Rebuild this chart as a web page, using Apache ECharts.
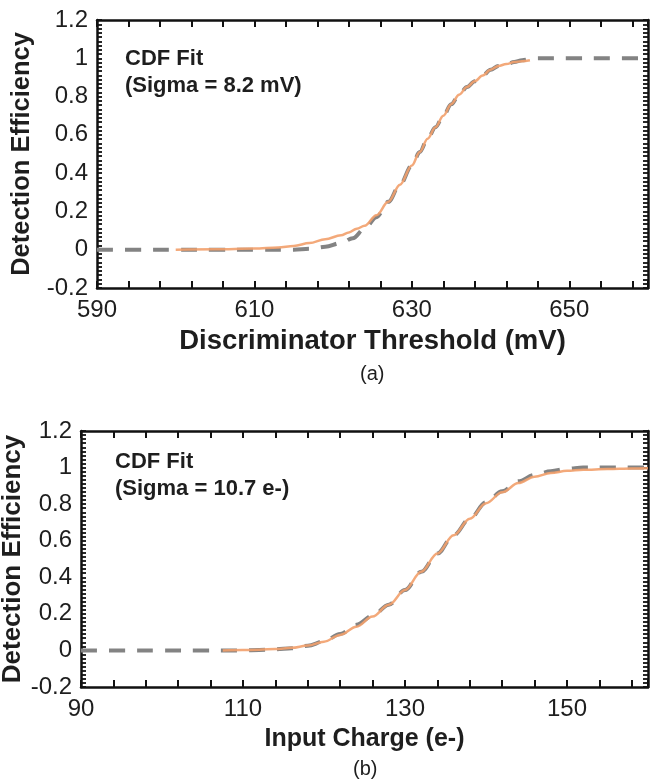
<!DOCTYPE html>
<html>
<head>
<meta charset="utf-8">
<script src="https://cdn.jsdelivr.net/npm/echarts@6/dist/echarts.min.js"></script>
<style>
html,body{margin:0;padding:0;background:#fff;}
#c{width:652px;height:781px;}
</style>
</head>
<body>
<div id="c"></div>
<script>
// Panel (a): Discriminator Threshold (mV) vs Detection Efficiency
var aDataX = [590, 595, 600, 605, 610, 615, 617, 619, 621, 622.5, 624, 625.5, 627, 628.5, 630, 631, 632, 633, 634, 635, 636, 637, 638, 639, 640, 641, 642, 643, 644, 645, 646, 650, 655, 660];
var aDataY = [0, 0, 0, 0, 0, 0, 0.005, 0.015, 0.035, 0.06, 0.11, 0.17, 0.25, 0.34, 0.44, 0.51, 0.58, 0.64, 0.70, 0.76, 0.81, 0.85, 0.88, 0.91, 0.94, 0.96, 0.97, 0.98, 0.99, 0.995, 1, 1, 1, 1];
var aFitX = [600, 605, 610, 613, 615, 617, 619, 621, 622, 623, 624, 625.5, 627, 628.5, 630, 631, 632, 633, 634, 635, 636, 637, 638, 639, 640, 641, 642, 643, 644, 645];
var aFitY = [0, 0.002, 0.006, 0.012, 0.02, 0.035, 0.055, 0.075, 0.09, 0.11, 0.125, 0.18, 0.25, 0.34, 0.44, 0.51, 0.58, 0.64, 0.70, 0.76, 0.81, 0.85, 0.88, 0.91, 0.94, 0.96, 0.97, 0.98, 0.985, 0.99];

// Panel (b): Input Charge (e-) vs Detection Efficiency
var bDataX = [90, 95, 100, 105, 108, 110, 112, 114, 116, 118, 120, 122, 124, 126, 128, 130, 132, 134, 136, 138, 140, 142, 144, 146, 148, 150, 152, 155, 158, 160];
var bDataY = [0, 0, 0, 0, 0, 0, 0.003, 0.006, 0.012, 0.025, 0.05, 0.09, 0.14, 0.19, 0.25, 0.33, 0.43, 0.53, 0.63, 0.72, 0.81, 0.87, 0.925, 0.96, 0.98, 0.993, 1.0, 1.0, 1.0, 1.0];
var bFitX = [107.5, 110, 112, 114, 116, 118, 120, 122, 124, 126, 128, 130, 132, 134, 136, 138, 140, 142, 144, 146, 148, 150, 152, 155, 158, 160];
var bFitY = [0, 0.002, 0.004, 0.008, 0.014, 0.027, 0.048, 0.085, 0.13, 0.185, 0.25, 0.33, 0.43, 0.53, 0.63, 0.72, 0.805, 0.865, 0.915, 0.95, 0.97, 0.982, 0.988, 0.992, 0.995, 0.996];

var yTickLabels = ['-0.2', '0', '0.2', '0.4', '0.6', '0.8', '1', '1.2'];
var aXTickLabels = ['590', '610', '630', '650'];
var bXTickLabels = ['90', '110', '130', '150'];

var FONT = 'Liberation Sans, Arial, sans-serif';
var TXT = '#1e1e1e';

function zip(xs, ys) { return xs.map(function (x, i) { return [x, ys[i]]; }); }

function xAxes(grid, min, max, labels, name, nameSize, nameGap) {
  var line = { show: true, onZero: false, lineStyle: { color: '#111', width: 2.5 } };
  return [
    {
      type: 'value', gridIndex: grid, min: min, max: max, interval: 4, position: 'bottom',
      axisLine: line,
      axisTick: { show: true, inside: true, length: 7, lineStyle: { color: '#111', width: 2 } },
      axisLabel: {
        color: TXT, fontFamily: FONT, fontSize: 24, margin: 10,
        formatter: function (v) { var s = String(Math.round(v)); return labels.indexOf(s) >= 0 ? s : ''; }
      },
      splitLine: { show: false },
      name: name, nameLocation: 'middle', nameGap: nameGap, nameMoveOverlap: false,
      nameTextStyle: { color: TXT, fontFamily: FONT, fontSize: nameSize, fontWeight: 'bold' }
    },
    {
      type: 'value', gridIndex: grid, min: min, max: max, interval: 4, position: 'top',
      axisLine: line,
      axisTick: { show: true, inside: true, length: 7, lineStyle: { color: '#111', width: 2 } },
      axisLabel: { show: false }, splitLine: { show: false }
    }
  ];
}

function yAxes(grid, nameGap, nameSize) {
  var line = { show: true, onZero: false, lineStyle: { color: '#111', width: 2.5 } };
  var tick = { show: true, inside: true, length: 5, lineStyle: { color: '#111', width: 1.8 } };
  var minor = { show: true, splitNumber: 9, length: 5, lineStyle: { color: '#111', width: 1.8 } };
  return [
    {
      type: 'value', gridIndex: grid, min: -0.2, max: 1.2, interval: 0.2, position: 'left',
      axisLine: line, axisTick: tick, minorTick: minor,
      axisLabel: {
        color: TXT, fontFamily: FONT, fontSize: 24, margin: 9,
        formatter: function (v) {
          var r = Math.round(v * 10) / 10;
          var s = String(r);
          return yTickLabels.indexOf(s) >= 0 ? s : '';
        }
      },
      splitLine: { show: false }, minorSplitLine: { show: false },
      name: 'Detection Efficiency', nameLocation: 'middle', nameGap: nameGap, nameRotate: 90, nameMoveOverlap: false,
      nameTextStyle: { color: TXT, fontFamily: FONT, fontSize: nameSize, fontWeight: 'bold' }
    },
    {
      type: 'value', gridIndex: grid, min: -0.2, max: 1.2, interval: 0.2, position: 'right',
      axisLine: line, axisTick: tick, minorTick: minor,
      axisLabel: { show: false }, splitLine: { show: false }, minorSplitLine: { show: false }
    }
  ];
}

var dataStyle = { color: '#838383', width: 4, type: [16, 12] };
var fitStyle = { color: '#f2a06b', width: 2.5, opacity: 0.9 };

function seriesPair(xi, yi, dX, dY, fX, fY) {
  return [
    {
      type: 'line', xAxisIndex: xi, yAxisIndex: yi, data: zip(dX, dY), showSymbol: false, symbol: 'none',
      smooth: 0.35, smoothMonotone: 'x', lineStyle: dataStyle, itemStyle: { color: '#838383' }, z: 2, silent: true
    },
    {
      type: 'line', xAxisIndex: xi, yAxisIndex: yi, data: zip(fX, fY), showSymbol: false, symbol: 'none',
      smooth: 0.35, smoothMonotone: 'x', lineStyle: fitStyle, itemStyle: { color: '#f2a06b' }, z: 3, silent: true
    }
  ];
}

var chart = echarts.init(document.getElementById('c'), null, { renderer: 'canvas' });

var option = {
  backgroundColor: '#ffffff',
  animation: false,
  grid: [
    { left: 97, top: 20, right: 4, height: 268, containLabel: false, outerBoundsMode: 'none' },
    { left: 81, top: 431, right: 4, height: 256, containLabel: false, outerBoundsMode: 'none' }
  ],
  xAxis: xAxes(0, 590, 660, aXTickLabels, 'Discriminator Threshold (mV)', 27.5, 39)
    .concat(xAxes(1, 90, 160, bXTickLabels, 'Input Charge (e-)', 25, 40)),
  yAxis: yAxes(0, 62, 25.5).concat(yAxes(1, 55, 26)),
  series: seriesPair(0, 0, aDataX, aDataY, aFitX, aFitY)
    .concat(seriesPair(2, 2, bDataX, bDataY, bFitX, bFitY)),
  graphic: [
    { type: 'text', left: 125, top: 48, style: { text: 'CDF Fit', fill: TXT, font: 'bold 22px ' + FONT } },
    { type: 'text', left: 125, top: 75, style: { text: '(Sigma = 8.2 mV)', fill: TXT, font: 'bold 22px ' + FONT } },
    { type: 'text', left: 360, top: 364, style: { text: '(a)', fill: TXT, font: '20px ' + FONT } },
    { type: 'text', left: 115, top: 451, style: { text: 'CDF Fit', fill: TXT, font: 'bold 22px ' + FONT } },
    { type: 'text', left: 115, top: 478, style: { text: '(Sigma = 10.7 e-)', fill: TXT, font: 'bold 22px ' + FONT } },
    { type: 'text', left: 353, top: 759, style: { text: '(b)', fill: TXT, font: '20px ' + FONT } }
  ]
};
chart.setOption(option);
</script>
</body>
</html>
